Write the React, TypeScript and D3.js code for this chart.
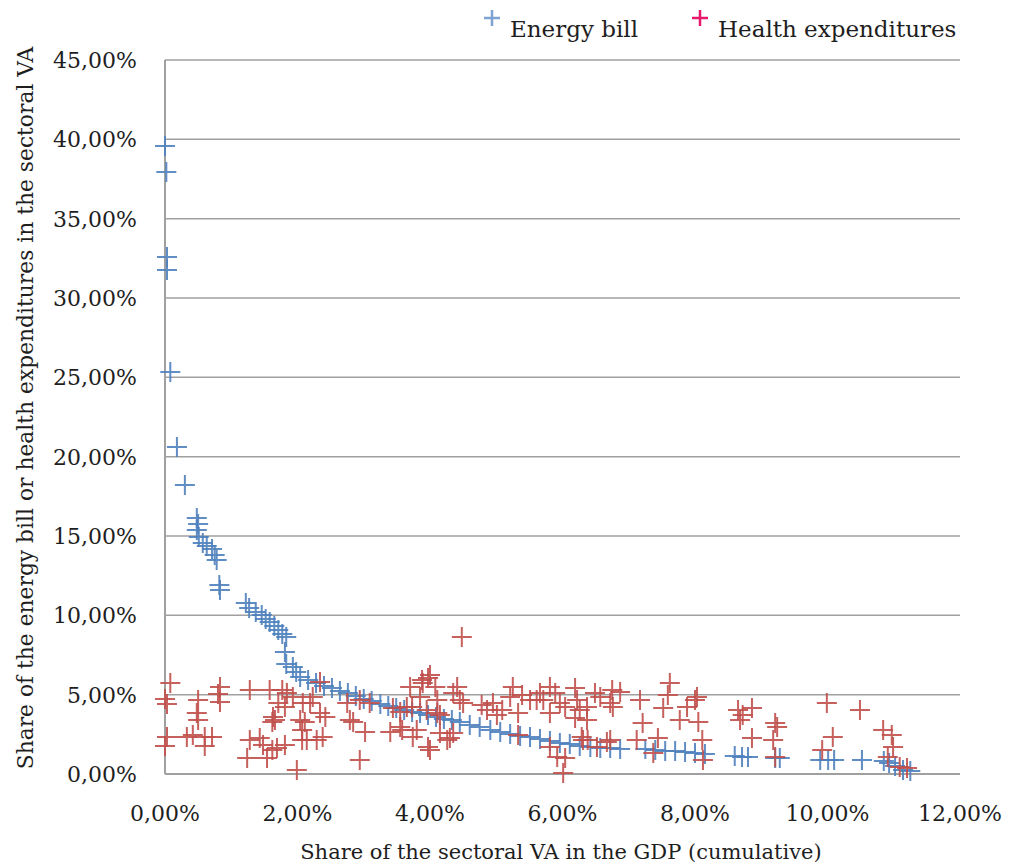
import React from 'react';
import * as d3 from 'd3';

// share of GDP (cumulative, %) / share in sectoral VA (%)
const energyPoints: [number, number][] = [
  [0.00, 39.58], [0.02, 37.94], [0.03, 32.58], [0.03, 31.76], [0.08, 25.34], [0.18, 20.61],
  [0.30, 18.21], [0.48, 16.13], [0.50, 15.76], [0.48, 15.38], [0.51, 14.94], [0.57, 14.56],
  [0.63, 14.37], [0.71, 14.18], [0.75, 13.80], [0.78, 13.49], [0.82, 11.91], [0.83, 11.60],
  [1.22, 10.78], [1.27, 10.46], [1.37, 10.21], [1.46, 10.02], [1.52, 9.77], [1.58, 9.58],
  [1.65, 9.33], [1.71, 9.08], [1.77, 8.82], [1.83, 8.63], [1.81, 7.69], [1.83, 6.93],
  [1.93, 6.74], [1.98, 6.43], [2.04, 6.11], [2.16, 5.92], [2.28, 5.74], [2.40, 5.55],
  [2.52, 5.42], [2.64, 5.23], [2.76, 5.11], [2.88, 4.92], [3.00, 4.73], [3.12, 4.60],
  [3.25, 4.41], [3.37, 4.29], [3.49, 4.16], [3.61, 4.03], [3.73, 3.91], [3.85, 3.84],
  [3.97, 3.72], [4.09, 3.59], [4.21, 3.47], [4.33, 3.40], [4.45, 3.28], [4.60, 3.09],
  [4.75, 2.96], [4.91, 2.77], [5.06, 2.65], [5.21, 2.52], [5.36, 2.39], [5.51, 2.33],
  [5.66, 2.21], [5.81, 2.08], [5.96, 1.95], [6.11, 1.89], [6.26, 1.76], [6.42, 1.70],
  [6.57, 1.64], [6.72, 1.64], [6.87, 1.58], [7.25, 1.58], [7.40, 1.51], [7.55, 1.45],
  [7.70, 1.45], [7.85, 1.39], [8.00, 1.32], [8.15, 1.26], [8.60, 1.13], [8.71, 1.07],
  [8.80, 1.07], [9.21, 1.01], [9.28, 1.01], [9.89, 0.88], [10.01, 0.88], [10.10, 0.88],
  [10.52, 0.88], [10.85, 0.82], [10.93, 0.69], [11.02, 0.50], [11.14, 0.25], [11.25, 0.19],
];

const healthPoints: [number, number][] = [
  [0.08, 5.74], [0.00, 4.73], [0.03, 4.41], [0.50, 4.66], [0.83, 5.48], [0.80, 5.04],
  [0.83, 4.54], [0.48, 3.84], [0.50, 3.40], [0.03, 2.33], [0.00, 1.76], [0.33, 2.33],
  [0.42, 2.46], [0.60, 2.33], [0.71, 2.33], [0.60, 1.76],
  [1.28, 5.29], [1.58, 5.29], [1.77, 5.29], [1.84, 5.11], [1.71, 4.47], [1.81, 4.22],
  [1.63, 3.59], [1.62, 3.28], [1.66, 3.40], [2.04, 3.40], [2.11, 3.28], [2.07, 2.77],
  [1.28, 2.14], [1.43, 2.27], [1.48, 1.83], [1.62, 1.51], [1.69, 1.64], [1.81, 1.83],
  [1.24, 1.01], [1.54, 1.01], [1.99, 0.25], [2.07, 2.14], [2.29, 2.14], [1.93, 4.85],
  [2.19, 4.47],
  [2.34, 5.80], [2.23, 4.85], [2.08, 4.47], [2.34, 3.84], [2.42, 3.59], [2.38, 2.33],
  [2.14, 2.14], [2.75, 4.47], [2.79, 3.40], [2.84, 3.28], [3.02, 2.65], [2.94, 0.88],
  [3.09, 4.47], [2.94, 4.66], [3.40, 2.65], [3.55, 2.96], [3.65, 4.22], [3.70, 5.48],
  [3.89, 5.74], [4.00, 6.24], [3.85, 4.85], [3.95, 4.03], [4.11, 4.66], [4.15, 3.72],
  [4.15, 2.58], [4.00, 1.51], [4.26, 2.14], [4.35, 2.58], [4.45, 4.66], [4.41, 5.48],
  [3.80, 2.77], [3.55, 3.91],
  [4.48, 8.63], [3.97, 6.05], [3.88, 5.92], [3.44, 4.16], [3.73, 4.22], [4.08, 5.48],
  [4.35, 5.11], [4.11, 3.84], [3.97, 1.70], [4.30, 2.27], [3.58, 2.77], [3.74, 2.33],
  [4.50, 4.47], [4.78, 4.35], [4.86, 4.03], [4.95, 4.47], [5.09, 4.03], [5.01, 3.72],
  [5.25, 5.48], [5.21, 4.85], [5.39, 4.98], [5.33, 3.84], [5.66, 5.11], [5.81, 5.48],
  [5.89, 5.11], [5.61, 4.66], [5.81, 3.84], [5.96, 4.47], [6.19, 5.42], [6.22, 4.66],
  [6.26, 4.03], [6.19, 3.53], [6.37, 3.40], [6.49, 5.11], [6.75, 5.29], [6.72, 4.47],
  [6.67, 2.02], [6.31, 2.14], [5.81, 1.70], [5.92, 1.07], [6.04, 1.01], [6.01, 0.06],
  [5.33, 2.46], [5.51, 4.66], [5.71, 4.66], [6.04, 4.22], [6.37, 4.22], [6.57, 4.85],
  [6.76, 4.22], [6.29, 2.33], [6.38, 2.14], [6.72, 2.14], [6.52, 1.70],
  [6.87, 5.17], [7.17, 4.66], [7.21, 3.21], [7.62, 5.74], [7.59, 4.98], [7.52, 4.16],
  [7.88, 4.22], [8.00, 4.66], [8.03, 4.85], [7.77, 3.40], [8.05, 3.28], [7.12, 2.14],
  [7.44, 2.27], [8.11, 2.14], [7.37, 1.32], [8.12, 0.88], [8.65, 4.03], [8.72, 3.72],
  [8.86, 4.16], [8.68, 3.40], [8.86, 2.27], [9.21, 3.21], [9.24, 2.96], [9.18, 2.14],
  [9.21, 1.07], [9.99, 4.47], [10.49, 4.03], [10.08, 2.33], [9.92, 1.51], [10.84, 2.77],
  [10.97, 2.46], [10.99, 1.70], [10.91, 1.07], [11.09, 0.44], [11.20, 0.38],
];

const yTicks = [0, 5, 10, 15, 20, 25, 30, 35, 40, 45];
const xTicks = [0, 2, 4, 6, 8, 10, 12];
const seriesNames = ['Energy bill', 'Health expenditures'];

const W = 1010, H = 867;
const FONT = '"DejaVu Serif", serif';
const C = { energy: '#4f81bd', health: '#c0504d', grid: '#a0a0a0', text: '#1e1e1e', legEnergy: '#7ea3d2', legHealth: '#e8196b' };

const fmt = (d: number) => d.toFixed(2).replace('.', ',') + '%';
const plus = 'M-10,0H10M0,-10V10';

export default function App() {
  const x = d3.scaleLinear().domain([0, 12]).range([165, 960]);
  const y = d3.scaleLinear().domain([0, 45]).range([774, 60]);

  return (
    <div style={{ position: 'absolute', left: 0, top: 0 }}>
      <svg width={W} height={H} style={{ display: 'block', background: '#fff' }} fontFamily={FONT}>
        {yTicks.filter(t => t > 0).map(t => (
          <line key={t} x1={x(0)} x2={x(12)} y1={y(t)} y2={y(t)} stroke={C.grid} strokeWidth={1.5} />
        ))}
        <line x1={x(0)} x2={x(0)} y1={y(0)} y2={y(45)} stroke={C.grid} strokeWidth={2} />
        <line x1={x(0)} x2={x(12)} y1={y(0)} y2={y(0)} stroke={C.grid} strokeWidth={2} />

        {yTicks.map(t => (
          <text key={t} x={137} y={y(t)} dy="0.36em" textAnchor="end" fontSize={22} fill={C.text}>{fmt(t)}</text>
        ))}
        {xTicks.map(t => (
          <text key={t} x={x(t)} y={821} textAnchor="middle" fontSize={22} fill={C.text}>{fmt(t)}</text>
        ))}

        {energyPoints.map((d, i) => (
          <path key={'e' + i} d={plus} transform={`translate(${x(d[0])},${y(d[1])})`} stroke={C.energy} strokeWidth={2} strokeOpacity={0.9} fill="none" />
        ))}
        {healthPoints.map((d, i) => (
          <path key={'h' + i} d={plus} transform={`translate(${x(d[0])},${y(d[1])})`} stroke={C.health} strokeWidth={2} strokeOpacity={0.9} fill="none" />
        ))}

        <text x={561} y={859} textAnchor="middle" fontSize={21} fill={C.text}>Share of the sectoral VA in the GDP (cumulative)</text>
        <text transform="translate(33,408) rotate(-90)" textAnchor="middle" fontSize={21.8} fill={C.text}>
          Share of the energy bill or health expenditures in the sectoral VA
        </text>

        <g transform="translate(492,18)">
          <path d="M-8,0H8M0,-8V8" stroke={C.legEnergy} strokeWidth={2.5} />
          <text x={18} y={19} fontSize={23} fill={C.text}>{seriesNames[0]}</text>
        </g>
        <g transform="translate(700,18)">
          <path d="M-8,0H8M0,-8V8" stroke={C.legHealth} strokeWidth={2.5} />
          <text x={18} y={19} fontSize={23} fill={C.text}>{seriesNames[1]}</text>
        </g>
      </svg>
    </div>
  );
}
